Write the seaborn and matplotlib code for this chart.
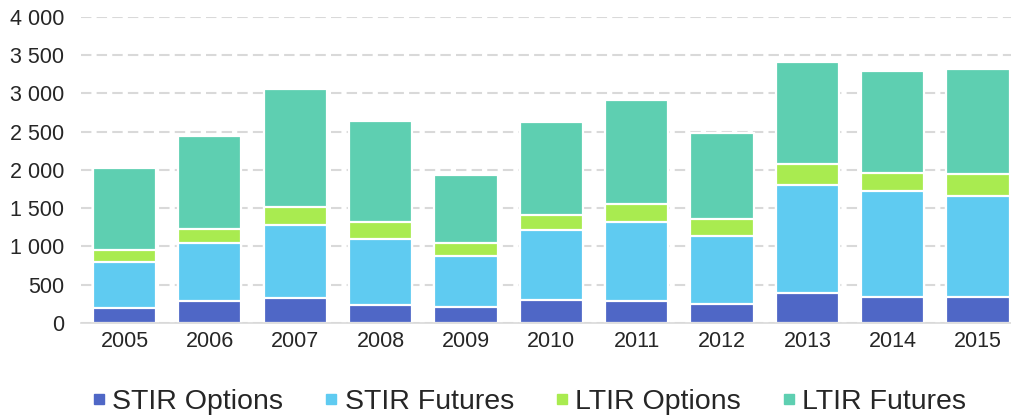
import matplotlib
matplotlib.use("Agg")
import matplotlib.pyplot as plt
from matplotlib.lines import Line2D
from matplotlib.ticker import FuncFormatter, MultipleLocator
import numpy as np
import pandas as pd
import seaborn as sns

sns.set_theme(style="white")
plt.rcParams['font.family'] = ['Liberation Sans', 'DejaVu Sans']

years = ["2005", "2006", "2007", "2008", "2009", "2010",
         "2011", "2012", "2013", "2014", "2015"]
stir_options = [200, 290, 325, 240, 210, 305, 290, 250, 390, 340, 340]
stir_futures = [600, 750, 955, 855, 670, 905, 1035, 890, 1420, 1385, 1315]
ltir_options = [150, 185, 230, 230, 165, 205, 235, 220, 270, 235, 295]
ltir_futures = [1070, 1215, 1545, 1310, 890, 1210, 1350, 1125, 1330, 1330, 1375]

series = ["STIR Options", "STIR Futures", "LTIR Options", "LTIR Futures"]
colors = ["#4F67C6", "#5FCBF1", "#A9EB50", "#5ECFB1"]

df = pd.DataFrame({"year": years, "STIR Options": stir_options,
                   "STIR Futures": stir_futures, "LTIR Options": ltir_options,
                   "LTIR Futures": ltir_futures})
cum = df[series].cumsum(axis=1)

fig = plt.figure(figsize=(10.12, 4.17), dpi=100)
ax = fig.add_axes([0.080, 0.2254, 0.9295, 0.734])

# draw cumulative totals from the top down so each segment sits on the previous
for name, col in reversed(list(zip(series, colors))):
    sns.barplot(x=df["year"], y=cum[name], color=col, width=0.74,
                edgecolor="white", linewidth=1.6, saturation=1, ax=ax)

ax.set_ylim(0, 4000)
ax.set_xlim(-0.51, 10.51)
ax.yaxis.set_major_locator(MultipleLocator(500))
ax.yaxis.set_major_formatter(FuncFormatter(lambda v, p: f"{v:,.0f}".replace(",", " ")))
ax.set_axisbelow(True)
ax.yaxis.grid(True, color="#D9D9D9", linestyle=(0, (5, 2.5)), linewidth=1.5)
ax.xaxis.grid(False)
for s in ["top", "right", "left"]:
    ax.spines[s].set_visible(False)
ax.spines["bottom"].set_color("#D9D9D9")
ax.spines["bottom"].set_linewidth(1.2)
ax.set_xlabel("")
ax.set_ylabel("")
ax.tick_params(axis="y", length=0, pad=12, labelsize=15.5, labelcolor="#262626")
ax.tick_params(axis="x", length=0, pad=6, labelsize=15.5, labelcolor="#262626")

handles = [Line2D([], [], marker="s", linestyle="none", markersize=7.5,
                  markerfacecolor=c, markeredgecolor=c) for c in colors]
fig.legend(handles, series, loc="center", bbox_to_anchor=(0.523, 0.037), ncol=4,
           frameon=False, fontsize=20.5, handlelength=0.45, handletextpad=0.25,
           columnspacing=1.45, borderpad=0)

fig.savefig("out.png", dpi=100)
